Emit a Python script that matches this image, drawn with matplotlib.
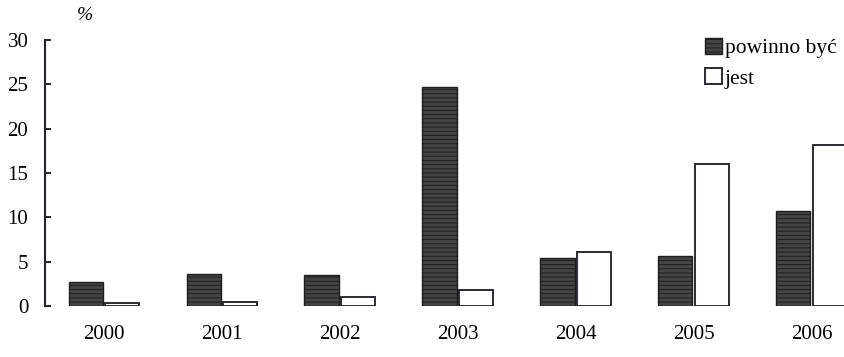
import numpy as np
import matplotlib.pyplot as plt
from matplotlib.patches import Patch

plt.rcParams['font.family'] = ['Liberation Serif', 'DejaVu Serif']
plt.rcParams['hatch.linewidth'] = 0.7
plt.rcParams['hatch.color'] = '#c8c8c8'

# dane (%)
lata = ['2000', '2001', '2002', '2003', '2004', '2005', '2006']
powinno_byc = [2.7, 3.6, 3.5, 24.7, 5.4, 5.6, 10.7]
jest = [0.3, 0.4, 1.0, 1.8, 6.1, 16.0, 18.2]

x = np.arange(len(lata))
w = 0.29

fig = plt.figure(figsize=(8.44, 3.57), dpi=100)
ax = fig.add_axes([45 / 844, 51 / 357, 1 - 45 / 844, 266 / 357])

ax.bar(x - 0.155, powinno_byc, w, color='#444444', edgecolor='#1e1e1e',
       hatch='----', linewidth=1.0, label='powinno być')
ax.bar(x + 0.155, jest, w, color='white', edgecolor='#1a1a2a',
       linewidth=1.3, label='jest')

# ostatni słupek ucięty przy prawej krawędzi
ax.set_xlim(-0.5, 6.275)
ax.set_ylim(0, 30)
ax.set_yticks(range(0, 31, 5))
ax.set_xticks(x)
ax.set_xticklabels(lata)
ax.tick_params(axis='x', length=0, pad=14, labelsize=15)
ax.tick_params(axis='y', direction='in', length=4, width=1.2, pad=12, labelsize=15)
for s in ['top', 'right', 'bottom']:
    ax.spines[s].set_visible(False)
ax.spines['left'].set_linewidth(1.5)
ax.spines['left'].set_color('#222233')

fig.text(77 / 844, 1 - 16 / 357, '%', fontsize=14, style='italic', ha='left', va='center')

uchwyty = [Patch(facecolor='#444444', edgecolor='#1e1e1e', hatch='----', label='powinno być'),
           Patch(facecolor='white', edgecolor='#1a1a2a', linewidth=1.3, label='jest')]
ax.legend(handles=uchwyty, loc='upper right', bbox_to_anchor=(1.015, 1.08), frameon=False,
          fontsize=15.5, handlelength=0.75, handleheight=0.75, handletextpad=0.15,
          labelspacing=0.45)

fig.savefig('out.png', dpi=100)
